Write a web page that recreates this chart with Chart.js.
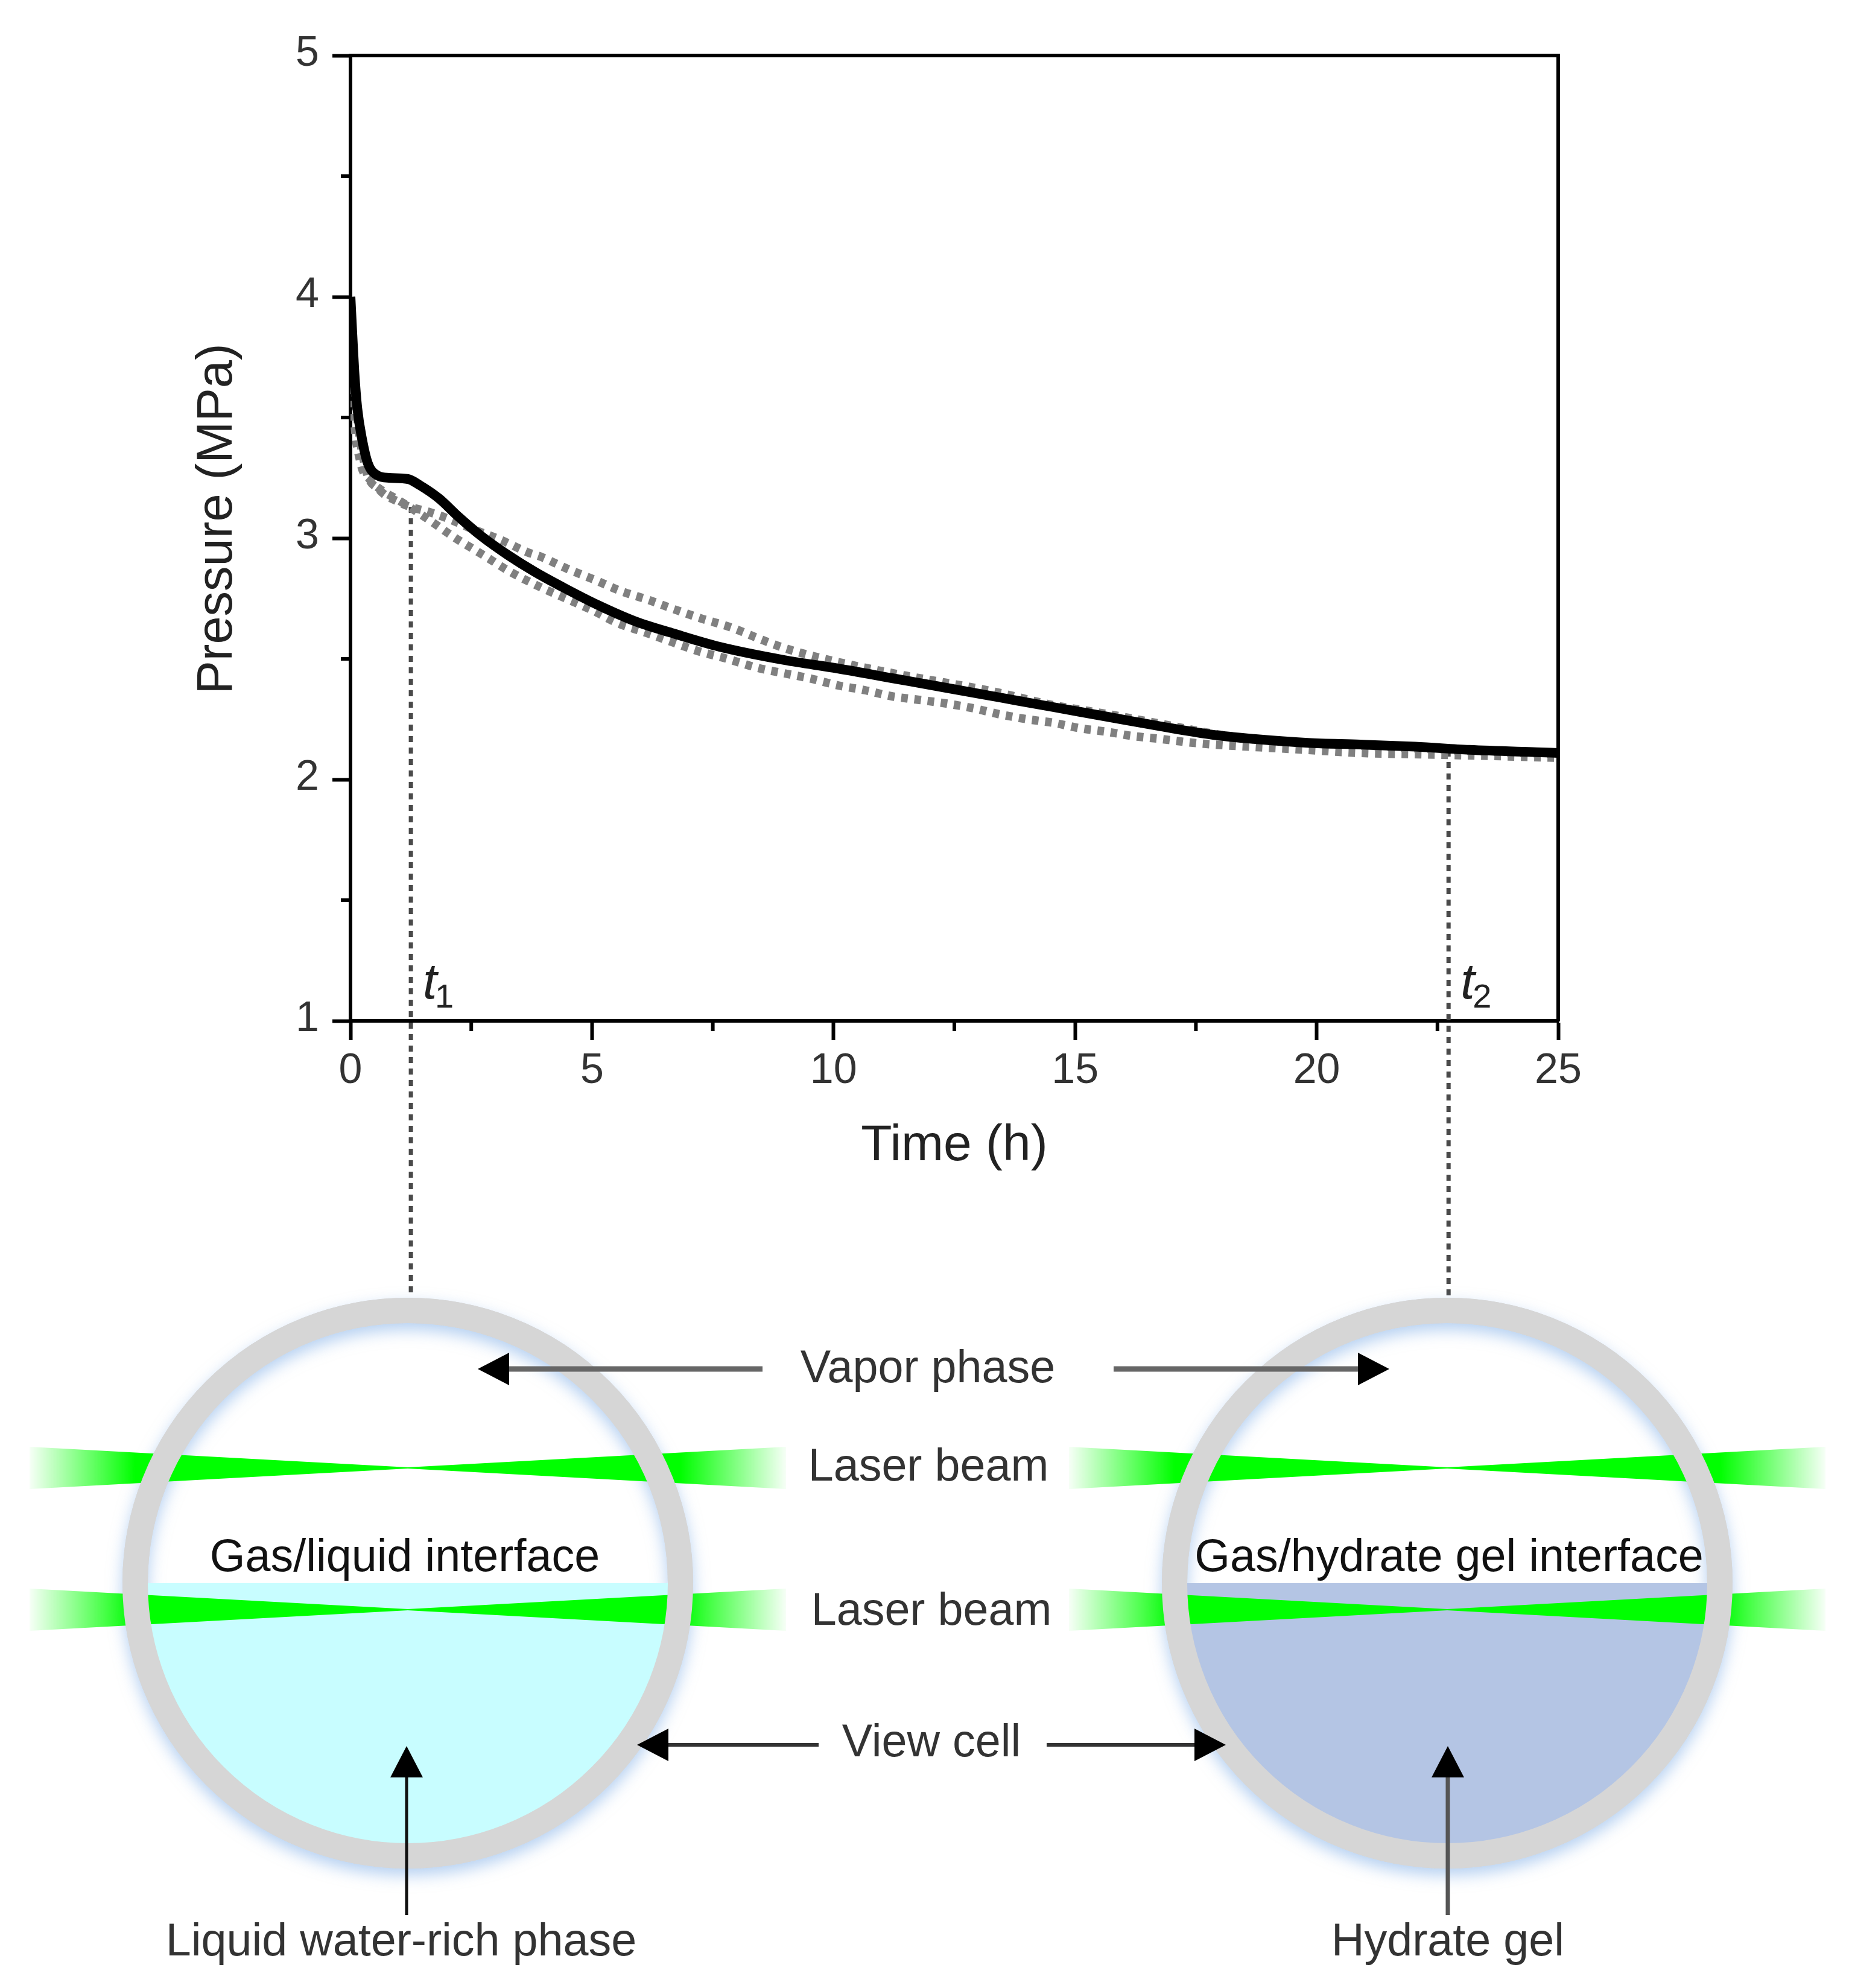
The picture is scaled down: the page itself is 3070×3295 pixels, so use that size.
<!DOCTYPE html>
<html>
<head>
<meta charset="utf-8">
<title>Pressure vs time</title>
<script src="https://cdn.jsdelivr.net/npm/chart.js@4"></script>
<style>
  html, body { margin: 0; padding: 0; background: #fff; }
  canvas { display: block; }
</style>
</head>
<body>
<canvas id="chart" width="3070" height="3295"></canvas>
<script>
/* ============================================================
   Pressure curve (black + two grey runs) and view cell sketch
   ============================================================ */

const mainTime = [0, 0.04, 0.08, 0.14, 0.24, 0.36, 0.56, 0.8, 1.19, 1.43, 1.83, 2.23, 2.7, 3.26, 3.82, 4.46, 5.1, 5.9, 6.69, 7.64, 8.98, 10.09, 11.21, 12.33, 13.44, 14.55, 15.67, 16.78, 17.86, 18.7, 19.82, 20.9, 22.04, 23.16, 24.55, 25];
const mainPressure = [4, 3.84, 3.69, 3.54, 3.41, 3.31, 3.26, 3.25, 3.245, 3.22, 3.165, 3.09, 3.01, 2.93, 2.86, 2.79, 2.725, 2.655, 2.605, 2.55, 2.495, 2.46, 2.42, 2.38, 2.34, 2.3, 2.26, 2.22, 2.185, 2.168, 2.152, 2.145, 2.136, 2.123, 2.113, 2.11];

const lowerTime = [0, 0.06, 0.2, 0.4, 0.64, 0.92, 1.23, 1.67, 1.99, 2.23, 2.75, 3.26, 3.9, 4.46, 5.02, 5.53, 6.09, 6.65, 7.2, 7.8, 8.44, 8.98, 9.54, 10.09, 10.65, 11.2, 11.77, 12.33, 12.9, 13.44, 14, 14.55, 15.1, 15.67, 16.2, 16.78, 17.3, 17.86, 18.7, 19.82, 20.9, 22, 23.16, 25];
const lowerPressure = [3.9, 3.55, 3.32, 3.243, 3.199, 3.166, 3.128, 3.07, 3.025, 2.993, 2.93, 2.866, 2.8, 2.75, 2.7, 2.648, 2.61, 2.57, 2.532, 2.5, 2.462, 2.44, 2.4175, 2.39, 2.37, 2.345, 2.33, 2.315, 2.295, 2.27, 2.25, 2.235, 2.2125, 2.1975, 2.18, 2.168, 2.155, 2.145, 2.135, 2.1225, 2.11, 2.105, 2.1, 2.09];

const upperTime = [0, 0.1, 0.3, 0.6, 1, 1.23, 1.6, 2.07, 2.5, 3.1, 3.66, 3.94, 4.5, 5.06, 5.57, 6.17, 6.69, 7.25, 7.88, 8.44, 8.98, 9.7, 10.6, 11.5, 13.3, 14.5, 15.7, 16.8, 17.86, 19, 21, 23, 25];
const upperPressure = [4, 3.6, 3.3, 3.2, 3.15, 3.13, 3.11, 3.077, 3.04, 2.994, 2.942, 2.923, 2.872, 2.827, 2.783, 2.744, 2.706, 2.668, 2.63, 2.585, 2.545, 2.505, 2.465, 2.43, 2.365, 2.31, 2.27, 2.23, 2.19, 2.16, 2.14, 2.12, 2.105];

const guideT1Time = [1.25, 1.25];
const guideT1Pressure = [3.13, -0.15];
const guideT2Time = [22.73, 22.73];
const guideT2Pressure = [2.12, -0.15];

const xMinorTicks = [2.5, 7.5, 12.5, 17.5, 22.5];
const yMinorTicks = [1.5, 2.5, 3.5, 4.5];

const FONT = '"Liberation Sans", Arial, sans-serif';
const INK = '#333';

function toPoints(xs, ys) {
  return xs.map((x, i) => ({ x, y: ys[i] }));
}

// Minor ticks: the linear scale only has one tick length, so add them by hand
const minorTicksPlugin = {
  id: 'minorTicks',
  afterDraw(chart) {
    const { ctx, scales: { x, y } } = chart;
    ctx.save();
    ctx.strokeStyle = '#000';
    ctx.lineWidth = 6;
    xMinorTicks.forEach(v => {
      const px = x.getPixelForValue(v);
      ctx.beginPath(); ctx.moveTo(px, y.bottom); ctx.lineTo(px, y.bottom + 17); ctx.stroke();
    });
    yMinorTicks.forEach(v => {
      const py = y.getPixelForValue(v);
      ctx.beginPath(); ctx.moveTo(x.left, py); ctx.lineTo(x.left - 16, py); ctx.stroke();
    });
    ctx.restore();
  }
};

// t1 / t2 labels and the y title, which sits a little above the axis centre
const axisTextPlugin = {
  id: 'axisText',
  afterDatasetsDraw(chart) {
    const { ctx, scales: { x, y } } = chart;
    const draw = (time, sub) => {
      const px = x.getPixelForValue(time) + 20;
      const py = y.getPixelForValue(1) - 37;
      ctx.save();
      ctx.fillStyle = '#222';
      ctx.textBaseline = 'alphabetic';
      ctx.textAlign = 'left';
      ctx.font = 'italic 84px ' + FONT;
      ctx.fillText('t', px, py);
      ctx.font = '56px ' + FONT;
      ctx.fillText(sub, px + 20, py + 15);
      ctx.restore();
    };
    draw(guideT1Time[0], '1');
    draw(guideT2Time[0], '2');

    ctx.save();
    ctx.translate(361, 860);
    ctx.rotate(-Math.PI / 2);
    ctx.textAlign = 'center';
    ctx.textBaseline = 'middle';
    ctx.fillStyle = '#222';
    ctx.font = '83px ' + FONT;
    ctx.fillText('Pressure (MPa)', 0, 0);
    ctx.restore();
  }
};

function drawArrow(ctx, x1, y1, x2, y2, color, width) {
  const a = Math.atan2(y2 - y1, x2 - x1);
  const len = 52, half = 27;
  ctx.strokeStyle = color;
  ctx.lineWidth = width;
  ctx.beginPath();
  ctx.moveTo(x1, y1);
  ctx.lineTo(x2 - Math.cos(a) * len * 0.9, y2 - Math.sin(a) * len * 0.9);
  ctx.stroke();
  ctx.fillStyle = '#000';
  ctx.beginPath();
  ctx.moveTo(x2, y2);
  ctx.lineTo(x2 - Math.cos(a) * len - Math.sin(a) * half, y2 - Math.sin(a) * len + Math.cos(a) * half);
  ctx.lineTo(x2 - Math.cos(a) * len + Math.sin(a) * half, y2 - Math.sin(a) * len - Math.cos(a) * half);
  ctx.closePath();
  ctx.fill();
}

function drawBeam(ctx, cx, cy) {
  const reach = 627, spread = 35, fade = 175;
  const l = cx - reach, r = cx + reach;
  const grad = ctx.createLinearGradient(l, 0, r, 0);
  const f = fade / (reach * 2);
  grad.addColorStop(0, 'rgba(0,255,0,0.03)');
  grad.addColorStop(f, 'rgba(0,255,0,1)');
  grad.addColorStop(1 - f, 'rgba(0,255,0,1)');
  grad.addColorStop(1, 'rgba(0,255,0,0.03)');
  ctx.fillStyle = grad;
  ctx.beginPath();
  ctx.moveTo(l, cy - spread);
  ctx.lineTo(cx, cy - 1);
  ctx.lineTo(r, cy - spread);
  ctx.lineTo(r, cy + spread);
  ctx.lineTo(cx, cy + 1);
  ctx.lineTo(l, cy + spread);
  ctx.closePath();
  ctx.fill();
}

function drawCell(ctx, cx, fill) {
  const cy = 2624, midR = 452, innerR = 431;
  // soft blue halo, pushed down so it shows inside at the top and outside at the bottom
  ctx.save();
  ctx.shadowColor = 'rgba(120,170,230,0.55)';
  ctx.shadowBlur = 26;
  ctx.shadowOffsetY = 11;
  ctx.strokeStyle = '#d6d6d6';
  ctx.lineWidth = 42;
  ctx.beginPath(); ctx.arc(cx, cy, midR, 0, Math.PI * 2); ctx.stroke();
  ctx.restore();
  // lower half filled up to the interface
  ctx.fillStyle = fill;
  ctx.beginPath(); ctx.arc(cx, cy, innerR + 2, 0, Math.PI); ctx.closePath(); ctx.fill();
  drawBeam(ctx, cx, 2433);
  drawBeam(ctx, cx, 2668);
  ctx.strokeStyle = '#d6d6d6';
  ctx.lineWidth = 42;
  ctx.beginPath(); ctx.arc(cx, cy, midR, 0, Math.PI * 2); ctx.stroke();
}

const cellDiagramPlugin = {
  id: 'cellDiagram',
  afterDraw(chart) {
    const ctx = chart.ctx;
    ctx.save();
    drawCell(ctx, 676, '#c8fdff');
    drawCell(ctx, 2399, '#b4c5e4');

    ctx.textAlign = 'center';
    ctx.textBaseline = 'middle';
    ctx.font = '75.5px ' + FONT;
    ctx.fillStyle = '#111';
    ctx.fillText('Gas/liquid interface', 671, 2583);
    ctx.fillText('Gas/hydrate gel interface', 2402, 2583);
    ctx.fillStyle = INK;
    ctx.fillText('Vapor phase', 1538, 2270);
    ctx.fillText('Laser beam', 1539, 2433);
    ctx.fillText('Laser beam', 1544, 2672);
    ctx.fillText('View cell', 1544, 2890);
    ctx.fillText('Liquid water-rich phase', 665, 3220);
    ctx.fillText('Hydrate gel', 2400, 3220);

    drawArrow(ctx, 1264, 2269, 792, 2269, '#666', 9);
    drawArrow(ctx, 1846, 2269, 2303, 2269, '#666', 9);
    drawArrow(ctx, 1357, 2892, 1056, 2892, '#333', 6);
    drawArrow(ctx, 1735, 2892, 2032, 2892, '#333', 6);
    drawArrow(ctx, 674, 3174, 674, 2894, '#111', 5);
    drawArrow(ctx, 2400, 3174, 2400, 2894, '#555', 7);
    ctx.restore();
  }
};

new Chart(document.getElementById('chart').getContext('2d'), {
  type: 'scatter',
  data: {
    datasets: [
      { data: toPoints(mainTime, mainPressure), showLine: true, borderColor: '#000', borderWidth: 16, pointRadius: 0, cubicInterpolationMode: 'monotone', order: 1 },
      { data: toPoints(lowerTime, lowerPressure), showLine: true, borderColor: '#808080', borderWidth: 14, borderDash: [11, 11], pointRadius: 0, cubicInterpolationMode: 'monotone', order: 2 },
      { data: toPoints(upperTime, upperPressure), showLine: true, borderColor: '#808080', borderWidth: 14, borderDash: [11, 11], pointRadius: 0, cubicInterpolationMode: 'monotone', order: 3 },
      { data: toPoints(guideT1Time, guideT1Pressure), showLine: true, borderColor: '#4a4a4a', borderWidth: 7, borderDash: [10, 9], pointRadius: 0, clip: false, order: 4 },
      { data: toPoints(guideT2Time, guideT2Pressure), showLine: true, borderColor: '#4a4a4a', borderWidth: 7, borderDash: [10, 9], pointRadius: 0, clip: false, order: 5 }
    ]
  },
  options: {
    responsive: false,
    devicePixelRatio: 1,
    animation: false,
    layout: { padding: { left: 312, right: 487, top: 92, bottom: 1345 } },
    plugins: { legend: { display: false }, tooltip: { enabled: false } },
    scales: {
      x: {
        type: 'linear', min: 0, max: 25,
        afterFit: s => { s.height = 258; },
        border: { color: '#000', width: 6 },
        grid: { drawOnChartArea: false, tickColor: '#000', tickWidth: 6, tickLength: 32 },
        ticks: { stepSize: 5, color: INK, padding: 10, maxRotation: 0, font: { family: FONT, size: 70 } },
        title: { display: true, text: 'Time (h)', color: '#222', padding: 0, font: { family: FONT, size: 84 } }
      },
      y: {
        type: 'linear', min: 1, max: 5,
        afterFit: s => { s.width = 269; },
        border: { color: '#000', width: 6 },
        grid: { drawOnChartArea: false, tickColor: '#000', tickWidth: 6, tickLength: 30 },
        ticks: { stepSize: 1, color: INK, padding: 22, labelOffset: -2, font: { family: FONT, size: 70 } }
      },
      xTop: {
        type: 'linear', position: 'top', min: 0, max: 25,
        afterFit: s => { s.height = 0; },
        border: { color: '#000', width: 6 },
        grid: { drawOnChartArea: false, drawTicks: false },
        ticks: { display: false }
      },
      yRight: {
        type: 'linear', position: 'right', min: 1, max: 5,
        afterFit: s => { s.width = 0; },
        border: { color: '#000', width: 6 },
        grid: { drawOnChartArea: false, drawTicks: false },
        ticks: { display: false }
      }
    }
  },
  plugins: [minorTicksPlugin, axisTextPlugin, cellDiagramPlugin]
});
</script>
</body>
</html>
